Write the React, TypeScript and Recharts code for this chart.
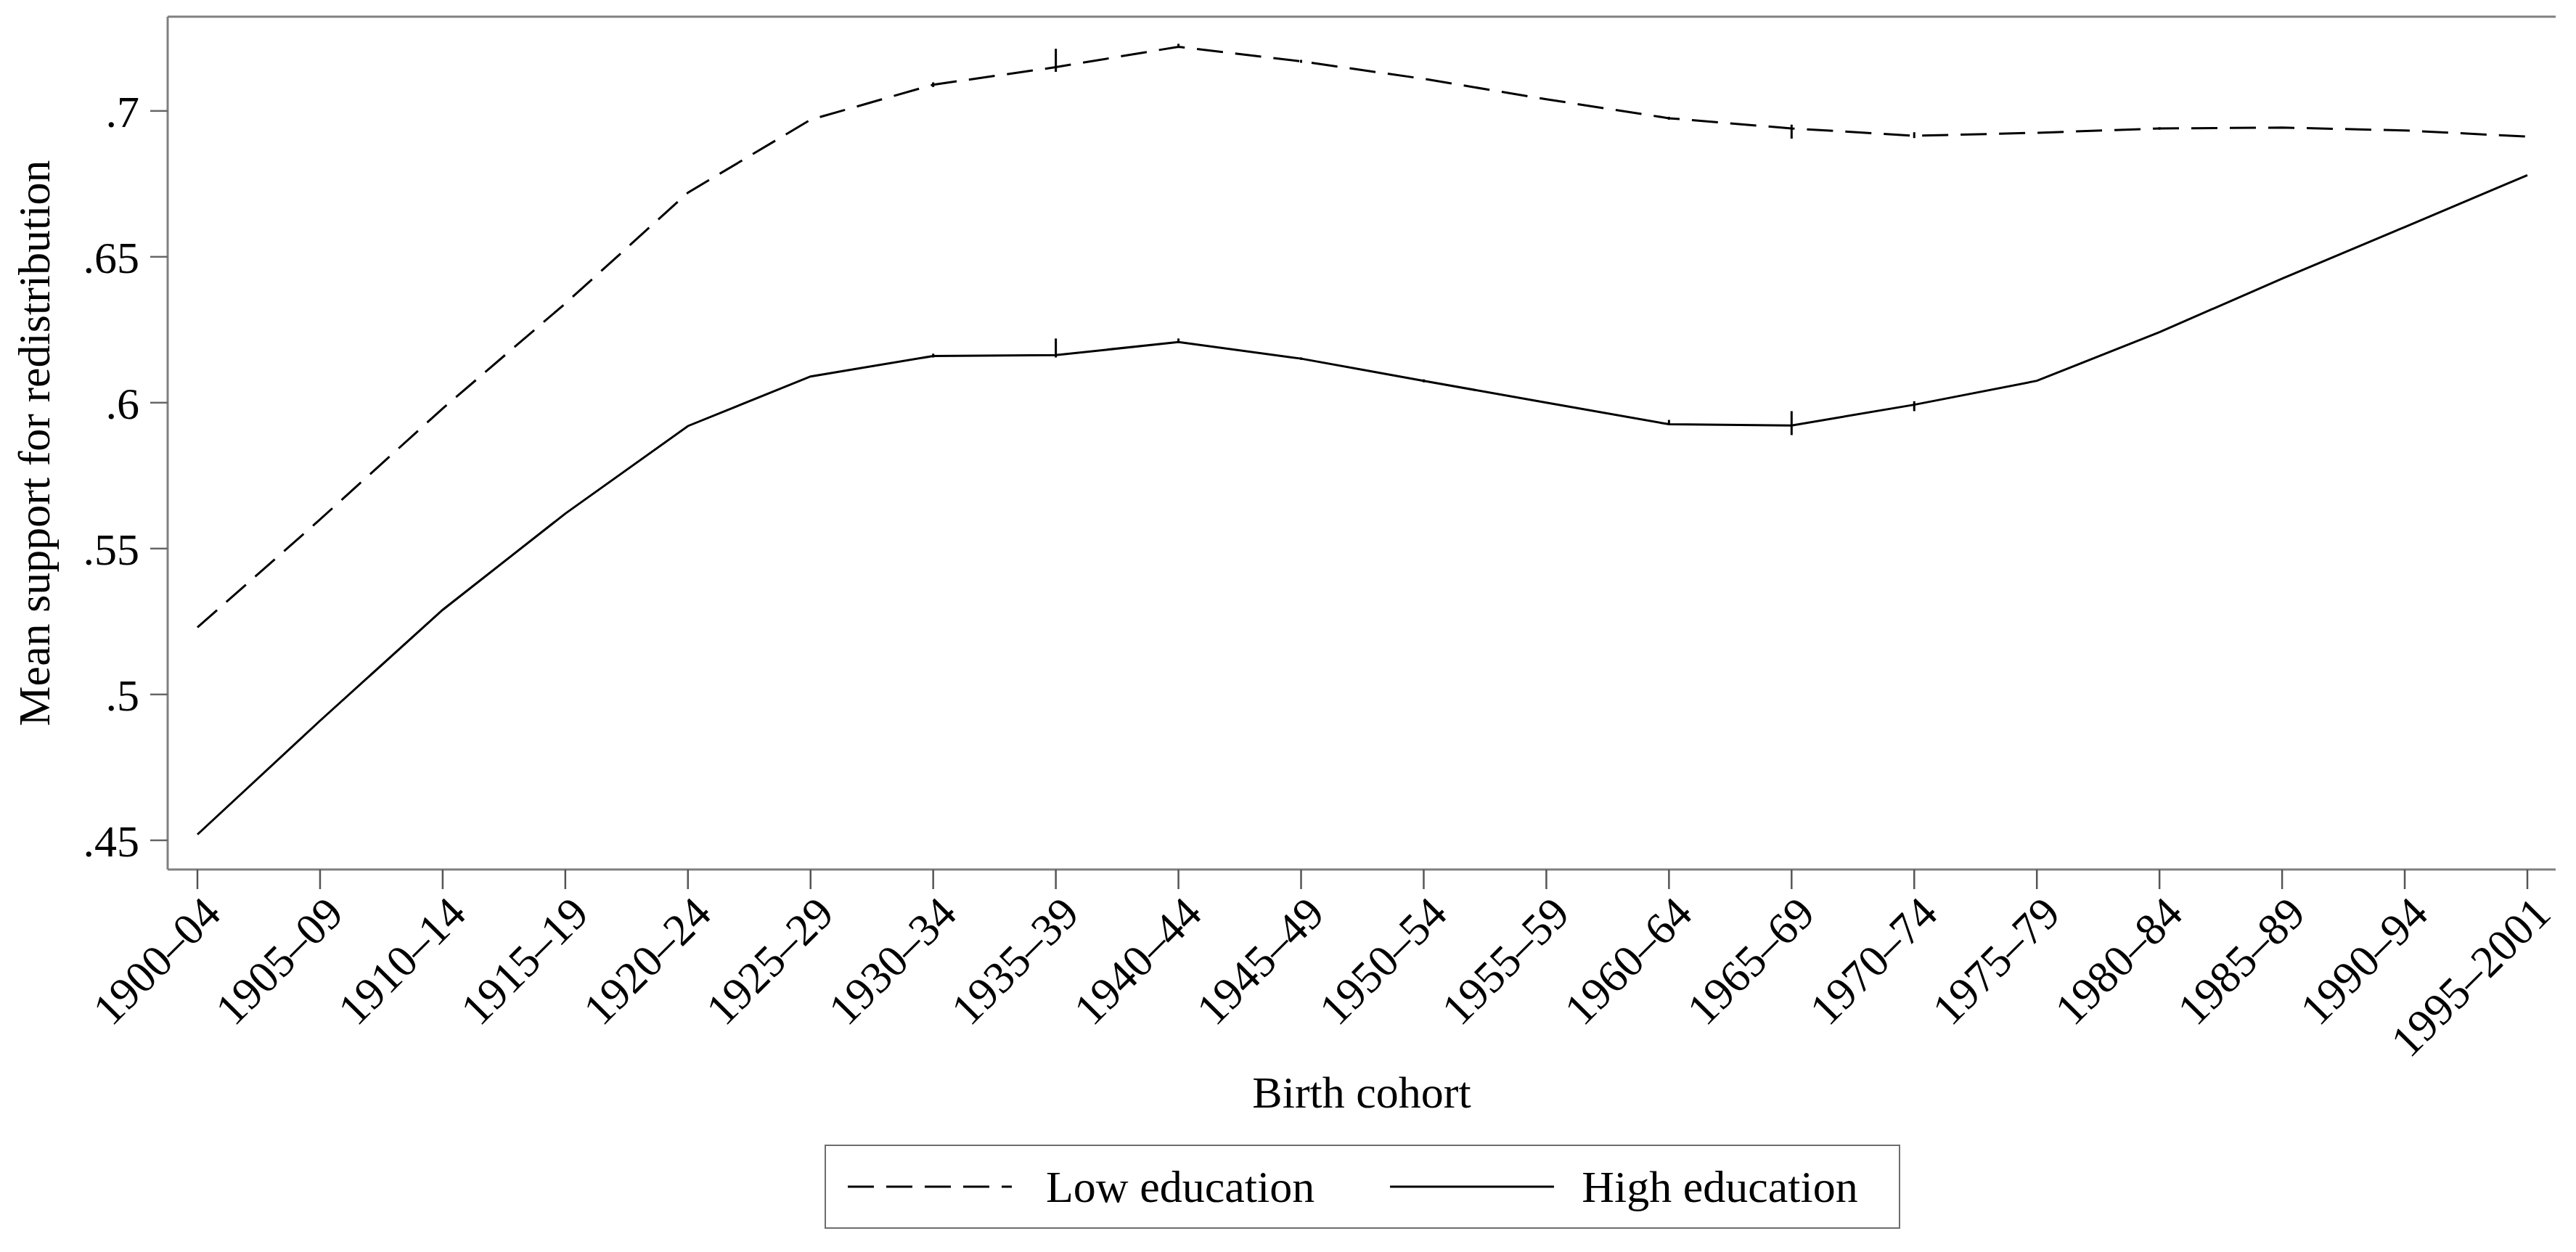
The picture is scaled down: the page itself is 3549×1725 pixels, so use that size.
import React from 'react';
import { LineChart, Line, XAxis, YAxis, Legend, ErrorBar } from 'recharts';

const cohorts = ['1900–04','1905–09','1910–14','1915–19','1920–24','1925–29','1930–34','1935–39','1940–44','1945–49','1950–54','1955–59','1960–64','1965–69','1970–74','1975–79','1980–84','1985–89','1990–94','1995–2001'];

const seriesNames = ['Low education', 'High education'];

const lowEducation = [0.523, 0.560, 0.598, 0.634, 0.672, 0.697, 0.709, 0.715, 0.722, 0.717, 0.711, 0.704, 0.6975, 0.694, 0.6915, 0.6925, 0.694, 0.6943, 0.6933, 0.6912];
const highEducation = [0.452, 0.491, 0.529, 0.562, 0.592, 0.609, 0.616, 0.6163, 0.6208, 0.6151, 0.6075, 0.600, 0.5926, 0.5922, 0.5993, 0.6075, 0.6242, 0.6425, 0.6602, 0.678];

// [below, above] half-widths of the small vertical whiskers
const lowErr = [[0,0],[0,0],[0,0],[0,0],[0,0],[0,0],[0.0008,0.0008],[0.0016,0.0063],[0,0.001],[0.0005,0.0005],[0,0],[0,0],[0.0005,0.0005],[0.0035,0.0013],[0.0008,0.0012],[0,0],[0.0004,0.0004],[0,0],[0,0],[0,0]];
const highErr = [[0,0],[0,0],[0,0],[0,0],[0,0],[0,0],[0.0005,0.0008],[0.0008,0.0057],[0,0.0012],[0.0004,0.0004],[0.0005,0.0005],[0,0],[0,0.0015],[0.0033,0.0049],[0.0022,0.0012],[0,0],[0,0],[0,0],[0,0],[0,0]];

const yTicks = [0.45, 0.5, 0.55, 0.6, 0.65, 0.7];

const data = cohorts.map((c, i) => ({
  cohort: c,
  low: lowEducation[i],
  high: highEducation[i],
  lowErr: lowErr[i],
  highErr: highErr[i],
}));

const FONT = '"Liberation Serif", "Times New Roman", serif';
const FS = 62;
const AXIS = '#808080';
const DASH = '36 17';

const LegendBox = (props: any) => {
  const payload = [...(props.payload || [])].sort(
    (a: any, b: any) => seriesNames.indexOf(a.value) - seriesNames.indexOf(b.value)
  );
  return (
    <div
      style={{
        width: 1482,
        height: 116,
        boxSizing: 'border-box',
        border: '2px solid #6e6e6e',
        display: 'flex',
        alignItems: 'center',
        fontFamily: FONT,
        fontSize: FS,
        color: '#000',
        background: '#fff',
      }}
    >
      {payload.map((entry: any, i: number) => (
        <div key={i} style={{ display: 'flex', alignItems: 'center', marginLeft: i === 0 ? 30 : 104 }}>
          <svg width={226} height={10} style={{ display: 'block' }}>
            <line
              x1={0}
              y1={5}
              x2={226}
              y2={5}
              stroke="#000"
              strokeWidth={3}
              strokeDasharray={entry.payload && entry.payload.strokeDasharray}
            />
          </svg>
          <span style={{ marginLeft: i === 0 ? 47 : 38, lineHeight: 1 }}>{entry.value}</span>
        </div>
      ))}
    </div>
  );
};

export default function App() {
  return (
    <div style={{ width: 3533, height: 1709, background: '#fff' }}>
      <LineChart
        width={3533}
        height={1709}
        data={data}
        margin={{ top: 14, right: 20, bottom: 139, left: 33 }}
        style={{ fontFamily: FONT }}
      >
        <XAxis
          dataKey="cohort"
          xAxisId="main"
          interval={0}
          padding={{ left: 41, right: 39 }}
          height={380}
          axisLine={{ stroke: AXIS, strokeWidth: 3 }}
          tickLine={{ stroke: '#555', strokeWidth: 2.5 }}
          tickSize={27}
          tickMargin={6}
          tick={{ angle: -45, textAnchor: 'end', fontSize: FS, fill: '#000', fontFamily: FONT, dx: 4 }}
          label={{ value: 'Birth cohort', position: 'insideTop', offset: 284, style: { fontSize: FS, fill: '#000', fontFamily: FONT } }}
        />
        <XAxis
          dataKey="cohort"
          xAxisId="top"
          orientation="top"
          height={1}
          interval={0}
          tick={false}
          tickLine={false}
          axisLine={{ stroke: AXIS, strokeWidth: 3 }}
        />
        <YAxis
          yAxisId="main"
          width={190}
          domain={[0.44, 0.7323]}
          allowDataOverflow
          ticks={yTicks}
          interval={0}
          axisLine={{ stroke: AXIS, strokeWidth: 3 }}
          tickLine={{ stroke: '#666', strokeWidth: 2.5 }}
          tickSize={24}
          tickMargin={15}
          tickFormatter={(v: number) => String(v).replace(/^0/, '')}
          tick={{ fontSize: FS, fill: '#000', fontFamily: FONT }}
          label={{
            value: 'Mean support for redistribution',
            angle: -90,
            position: 'insideLeft',
            offset: 5,
            style: { textAnchor: 'middle', fontSize: FS, fill: '#000', fontFamily: FONT },
          }}
        />
        <YAxis
          yAxisId="right"
          orientation="right"
          width={0}
          domain={[0.44, 0.7323]}
          tick={false}
          tickLine={false}
          axisLine={{ stroke: AXIS, strokeWidth: 3 }}
        />
        <Legend
          verticalAlign="middle"
          align="center"
          content={<LegendBox />}
          wrapperStyle={{ position: 'absolute', left: 1128, top: 1569, width: 1482, height: 116 }}
        />
        <Line
          xAxisId="main"
          yAxisId="main"
          name="Low education"
          dataKey="low"
          type="linear"
          stroke="#000"
          strokeWidth={3}
          strokeDasharray={DASH}
          dot={false}
          activeDot={false}
          isAnimationActive={false}
        >
          <ErrorBar dataKey="lowErr" direction="y" width={0} stroke="#000" strokeWidth={3} isAnimationActive={false} />
        </Line>
        <Line
          xAxisId="main"
          yAxisId="main"
          name="High education"
          dataKey="high"
          type="linear"
          stroke="#000"
          strokeWidth={3}
          dot={false}
          activeDot={false}
          isAnimationActive={false}
        >
          <ErrorBar dataKey="highErr" direction="y" width={0} stroke="#000" strokeWidth={3} isAnimationActive={false} />
        </Line>
      </LineChart>
    </div>
  );
}
